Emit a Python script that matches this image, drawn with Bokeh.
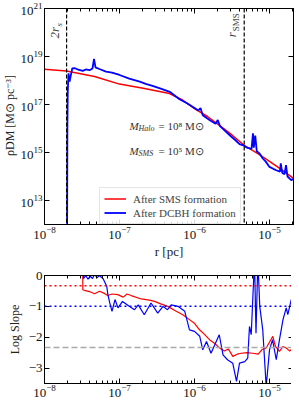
import numpy as np
from bokeh.plotting import figure
from bokeh.models import (Range1d, FixedTicker, LogTickFormatter, Span, Label,
                          Legend, LogAxis, LinearAxis)
from bokeh.layouts import column
from bokeh.embed import file_html
from bokeh.resources import INLINE

FONT = "Liberation Serif"

# ---------------- data (log10 r [pc], log10 rho [Msun/pc^3]) ----------------
sms_logr = [-8.0, -7.707, -7.333, -7.0, -6.667, -6.333, -6.173, -6.0, -5.827,
            -5.667, -5.493, -5.333, -5.16, -5.0, -4.84, -4.68]
sms_logrho = [18.47, 18.40, 18.17, 17.85, 17.67, 17.46, 17.21, 16.83, 16.50,
              16.13, 15.71, 15.29, 14.96, 14.63, 14.29, 13.92]

dcbh_logr = [-7.70, -7.695, -7.69, -7.68, -7.665, -7.65, -7.63, -7.60, -7.55,
             -7.49, -7.45, -7.40, -7.36, -7.34, -7.32, -7.26, -7.18, -7.10,
             -7.00, -6.87, -6.73, -6.65, -6.56, -6.45, -6.33, -6.20, -6.10,
             -6.02, -5.95, -5.92, -5.89, -5.80, -5.72, -5.69, -5.66, -5.60,
             -5.53, -5.45, -5.40, -5.35, -5.30, -5.24, -5.22, -5.21, -5.19,
             -5.17, -5.13, -5.09, -5.05, -5.00, -4.95, -4.91, -4.86, -4.85,
             -4.83, -4.80, -4.78, -4.76, -4.71, -4.68]
dcbh_logrho = [10.0, 16.0, 17.5, 18.3, 17.95, 18.2, 18.50, 18.52, 18.45,
               18.40, 18.46, 18.43, 18.50, 18.90, 18.55, 18.47, 18.37, 18.33,
               18.23, 18.08, 17.95, 17.86, 17.78, 17.66, 17.53, 17.22, 17.05,
               16.90, 16.75, 16.85, 16.55, 16.35, 16.20, 16.35, 16.10, 15.92,
               15.72, 15.50, 15.35, 15.30, 15.20, 15.15, 15.80, 15.20, 15.70,
               15.05, 14.95, 14.75, 14.62, 14.40, 14.32, 14.26, 14.20, 14.55,
               14.15, 14.10, 14.47, 14.00, 13.85, 13.90]

# log slope panel
slope_sms_logr = [-7.49, -7.489, -7.467, -7.40, -7.333, -7.267, -7.20, -7.156,
                  -7.10, -7.023, -6.95, -6.90, -6.844, -6.711, -6.60, -6.533,
                  -6.45, -6.356, -6.25, -6.156, -6.067, -6.0, -5.933, -5.87,
                  -5.80, -5.73, -5.667, -5.60, -5.55, -5.489, -5.43, -5.377,
                  -5.30, -5.223, -5.15, -5.10, -5.044, -4.956, -4.92, -4.867,
                  -4.82, -4.777, -4.73, -4.689]
slope_sms = [0.2, -0.46, -0.48, -0.52, -0.59, -0.51, -0.58, -0.65, -0.60, -0.62,
             -0.70, -0.60, -0.65, -0.76, -0.80, -0.84, -0.92, -1.00, -1.15, -1.27,
             -1.43, -1.55, -1.76, -1.90, -2.08, -2.20, -2.35, -2.45, -2.38, -2.62,
             -2.55, -2.52, -2.50, -2.52, -2.55, -2.40, -2.35, -1.97, -2.30, -2.46,
             -2.30, -2.35, -2.45, -2.35]

slope_dcbh_logr = [-8.0, -7.70, -7.69, -7.49, -7.48, -7.45, -7.42, -7.39, -7.36,
                   -7.33, -7.30, -7.27, -7.22, -7.17, -7.156, -7.13, -7.10,
                   -7.06, -7.02, -6.96, -6.87, -6.80, -6.75, -6.67, -6.58, -6.49,
                   -6.42, -6.36, -6.31, -6.22, -6.13, -6.067, -6.0, -5.93, -5.89,
                   -5.84, -5.78, -5.67, -5.62, -5.56, -5.49, -5.44, -5.40, -5.33,
                   -5.29, -5.267, -5.244, -5.20, -5.18, -5.155, -5.13, -5.09,
                   -5.044, -5.0, -4.96, -4.91, -4.867, -4.82, -4.777, -4.756,
                   -4.71, -4.69]
slope_dcbh = [0.0, 0.0, 2.0, 2.0, -0.10, 0.0, -0.12, -0.02, -0.10, 0.05, -0.08,
              0.0, -0.10, -0.35, -0.60, -0.89, -1.16, -0.78, -1.05, -0.84, -1.00,
              -1.11, -0.95, -1.27, -0.89, -1.22, -1.00, -1.11, -0.95, -1.00,
              -1.16, -1.76, -1.81, -1.97, -2.41, -2.14, -2.52, -1.92, -2.57,
              -2.73, -2.84, -3.43, -2.84, -2.79, -2.68, -1.65, -1.92, 0.5, -1.87,
              0.5, -1.00, -1.76, -3.6, -2.41, -2.08, -2.73, -2.08, -1.43, -1.05,
              -1.27, -0.78, -0.85]

r_2rs = 1.97e-8
r_sms = 4.6e-6
ref_slope_sms = -0.33
ref_slope_dcbh = -1.0
ref_slope_gray = -2.33

x_major = [1e-8, 1e-7, 1e-6, 1e-5]
x_minor = [k * 10.0 ** e for e in (-8, -7, -6, -5) for k in range(2, 10)]
y_major = [1e13, 1e15, 1e17, 1e19, 1e21]
s_major = [0, -1, -2, -3]

XR = (1e-8, 10 ** -4.68)


def style_axis(ax, labels=True):
    ax.axis_line_color = "black"
    ax.major_tick_line_color = "black"
    ax.minor_tick_line_color = "black"
    ax.major_tick_in = 5
    ax.major_tick_out = 0
    ax.minor_tick_in = 3
    ax.minor_tick_out = 0
    ax.major_label_text_font = FONT
    ax.major_label_text_color = "#111111"
    ax.axis_label_text_font = FONT
    ax.axis_label_text_font_style = "normal"
    ax.axis_label_text_color = "#222222"
    if labels:
        ax.major_label_text_font_size = "13px"
        ax.major_label_standoff = 2
    else:
        ax.major_label_text_font_size = "1px"
        ax.major_label_text_alpha = 0
        ax.major_label_standoff = 0


# ---------------- top panel ----------------
p1 = figure(x_axis_type="log", y_axis_type="log",
            x_range=Range1d(*XR), y_range=Range1d(1e12, 1e21),
            frame_width=249, frame_height=216,
            min_border_left=39, min_border_right=2, min_border_top=8,
            min_border_bottom=38,
            output_backend="svg", toolbar_location=None)
p1.grid.visible = False
p1.outline_line_color = "black"
p1.outline_line_alpha = 1

xt = FixedTicker(ticks=x_major, minor_ticks=x_minor)
yt = FixedTicker(ticks=y_major, minor_ticks=[])
p1.xaxis.ticker = xt
p1.yaxis.ticker = yt
p1.xaxis.formatter = LogTickFormatter()
p1.yaxis.formatter = LogTickFormatter()
style_axis(p1.xaxis[0])
style_axis(p1.yaxis[0])
p1.xaxis.axis_label = "r [pc]"
p1.xaxis.axis_label_text_font_size = "13px"
p1.xaxis.axis_label_standoff = 2
p1.yaxis.axis_label = "ρDM [M⊙ pc⁻³]"
p1.yaxis.axis_label_text_font_size = "12px"
p1.yaxis.axis_label_standoff = 0

ax_top = LogAxis(ticker=FixedTicker(ticks=x_major, minor_ticks=x_minor))
style_axis(ax_top, labels=False)
p1.add_layout(ax_top, "above")
ax_right = LogAxis(ticker=FixedTicker(ticks=y_major, minor_ticks=[]))
style_axis(ax_right, labels=False)
p1.add_layout(ax_right, "right")

sms_r = [10.0 ** v for v in sms_logr]
sms_rho = [10.0 ** v for v in sms_logrho]
dcbh_r = [10.0 ** v for v in dcbh_logr]
dcbh_rho = [10.0 ** v for v in dcbh_logrho]

l_sms = p1.line(sms_r, sms_rho, line_color="#ff0000", line_width=1.5)
l_dcbh = p1.line(dcbh_r, dcbh_rho, line_color="#0000ff", line_width=1.8)

for loc in (r_2rs, r_sms):
    p1.add_layout(Span(location=loc, dimension="height", line_color="black",
                       line_dash="4 2", line_width=1.2))

# vertical labels
p1.add_layout(Label(x=r_2rs, y=10 ** 19.75, text="2r", angle=np.pi / 2,
                    text_font=FONT, text_font_style="italic",
                    text_font_size="13px", text_align="left",
                    text_baseline="bottom", x_offset=-5))
p1.add_layout(Label(x=r_2rs, y=10 ** 19.75, text="s", angle=np.pi / 2,
                    text_font=FONT, text_font_style="italic",
                    text_font_size="9px", text_align="left",
                    text_baseline="bottom", x_offset=-3, y_offset=12))
p1.add_layout(Label(x=r_sms, y=10 ** 19.8, text="r", angle=np.pi / 2,
                    text_font=FONT, text_font_style="italic",
                    text_font_size="13px", text_align="left",
                    text_baseline="bottom", x_offset=-5))
p1.add_layout(Label(x=r_sms, y=10 ** 19.8, text="SMS", angle=np.pi / 2,
                    text_font=FONT, text_font_size="9px", text_align="left",
                    text_baseline="bottom", x_offset=-3, y_offset=6))

# mass annotations
ann_x = 10 ** -6.867
for ly, sub, rest in ((16.125, "Halo", "= 10⁸ M⊙"), (15.08, "SMS", "= 10⁵ M⊙")):
    p1.add_layout(Label(x=ann_x, y=10 ** ly, text="M", text_font=FONT,
                        text_font_style="italic", text_font_size="11px",
                        text_color="#333333", text_baseline="middle"))
    p1.add_layout(Label(x=ann_x, y=10 ** ly, text=sub, text_font=FONT,
                        text_font_style="italic", text_font_size="8px",
                        text_color="#333333", text_baseline="middle",
                        x_offset=9, y_offset=-3))
    p1.add_layout(Label(x=ann_x, y=10 ** ly, text=rest, text_font=FONT,
                        text_font_size="11px", text_color="#333333",
                        text_baseline="middle", x_offset=29))

legend = Legend(items=[("After SMS formation", [l_sms]),
                       ("After DCBH formation", [l_dcbh])],
                location=(55, 0), margin=0, padding=4, spacing=1,
                label_text_font=FONT, label_text_font_size="11px",
                label_height=13, glyph_height=13, glyph_width=22,
                label_standoff=7, border_line_color="#cccccc",
                background_fill_alpha=0.85)
p1.add_layout(legend)

# ---------------- bottom panel ----------------
p2 = figure(x_axis_type="log", x_range=Range1d(*XR), y_range=Range1d(-3.5, 0),
            frame_width=249, frame_height=108,
            min_border_left=39, min_border_right=2, min_border_top=13,
            min_border_bottom=12,
            output_backend="svg", toolbar_location=None)
p2.grid.visible = False
p2.outline_line_color = "black"
p2.xaxis.ticker = FixedTicker(ticks=x_major, minor_ticks=x_minor)
p2.xaxis.formatter = LogTickFormatter()
p2.yaxis.ticker = FixedTicker(ticks=s_major, minor_ticks=[])
p2.yaxis.major_label_overrides = {0: "0", -1: "−1", -2: "−2", -3: "−3"}
style_axis(p2.xaxis[0])
style_axis(p2.yaxis[0])
p2.xaxis.major_label_standoff = 1
p2.yaxis.axis_label = "Log Slope"
p2.yaxis.axis_label_text_font_size = "12px"
p2.yaxis.axis_label_standoff = 4

ax_top2 = LogAxis(ticker=FixedTicker(ticks=x_major, minor_ticks=x_minor))
style_axis(ax_top2, labels=False)
p2.add_layout(ax_top2, "above")
ax_right2 = LinearAxis(ticker=FixedTicker(ticks=s_major, minor_ticks=[]))
style_axis(ax_right2, labels=False)
p2.add_layout(ax_right2, "right")

p2.add_layout(Span(location=ref_slope_sms, dimension="width", line_color="#ff0000",
                   line_dash="2 3", line_width=1.5))
p2.add_layout(Span(location=ref_slope_dcbh, dimension="width", line_color="#0000ff",
                   line_dash="2 3", line_width=1.5))
p2.add_layout(Span(location=ref_slope_gray, dimension="width", line_color="#aaaaaa",
                   line_dash="6 3", line_width=1.5))

p2.line([10.0 ** v for v in slope_sms_logr], slope_sms, line_color="#ff0000",
        line_width=1.2)
p2.line([10.0 ** v for v in slope_dcbh_logr], slope_dcbh, line_color="#0000ff",
        line_width=1.2)

layout = column(p1, p2, spacing=0)
open("out.html", "w").write(file_html(layout, INLINE))
